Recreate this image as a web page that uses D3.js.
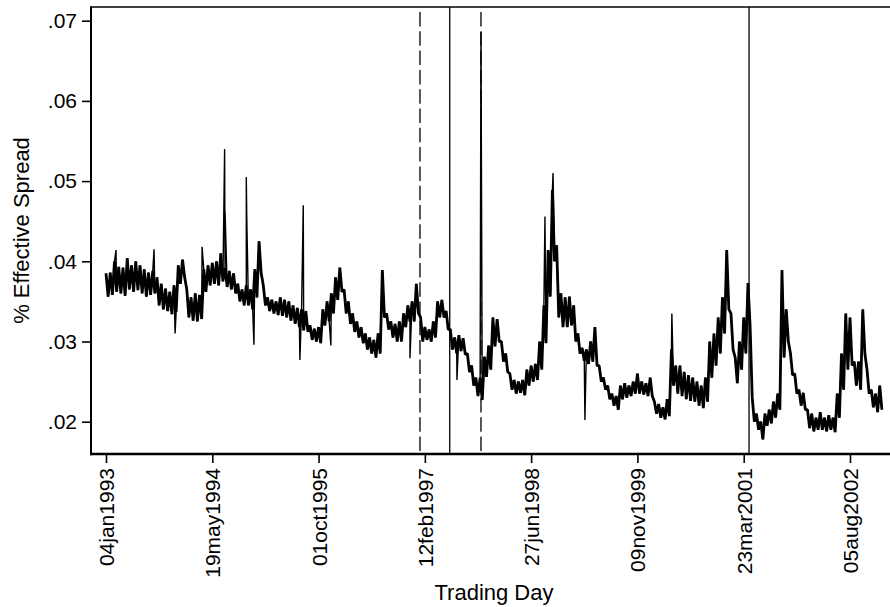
<!DOCTYPE html>
<html>
<head>
<meta charset="utf-8">
<script src="https://cdn.jsdelivr.net/npm/d3@7"></script>
<style>
  body { margin: 0; background: #fff; }
  svg { display: block; font-family: "Liberation Sans", Arial, sans-serif; }
</style>
</head>
<body>
<svg id="chart" width="890" height="607"></svg>
<script>
// spread sampled every 10 calendar days from the first trading day, read as [high, low] pairs (20 days per pair)
const firstDay = "1993-01-04";
const sampleStepDays = 10;
const spreadHiLo = [
  [.0385,.0356],[.0386,.0358],[.0400,.0362],[.0393,.0360],[.0392,.0357],[.0404,.0365],[.0395,.0362],[.0400,.0364],[.0395,.0360],[.0390,.0356],
  [.0386,.0358],[.0388,.0360],[.0380,.0345],[.0372,.0340],[.0366,.0338],[.0362,.0334],[.0370,.0337],[.0395,.0372],[.0402,.0380],[.0365,.0330],
  [.0355,.0326],[.0360,.0325],[.0358,.0328],[.0390,.0362],[.0395,.0370],[.0398,.0372],[.0400,.0370],[.0410,.0375],[.0392,.0368],[.0388,.0365],
  [.0385,.0360],[.0372,.0350],[.0365,.0345],[.0370,.0345],[.0365,.0340],[.0390,.0355],[.0425,.0385],[.0370,.0345],[.0355,.0338],[.0352,.0335],
  [.0350,.0333],[.0355,.0332],[.0352,.0330],[.0350,.0326],[.0345,.0322],[.0342,.0318],[.0340,.0314],[.0338,.0312],[.0320,.0302],[.0316,.0300],
  [.0318,.0298],[.0340,.0320],[.0350,.0325],[.0360,.0335],[.0380,.0352],[.0392,.0362],[.0365,.0335],[.0350,.0322],[.0335,.0312],[.0325,.0305],
  [.0318,.0298],[.0310,.0290],[.0305,.0285],[.0302,.0280],[.0310,.0285],[.0389,.0330],[.0335,.0315],[.0325,.0305],[.0322,.0300],[.0325,.0300],
  [.0335,.0318],[.0345,.0325],[.0350,.0325],[.0372,.0335],[.0330,.0300],[.0318,.0302],[.0315,.0300],[.0325,.0305],[.0350,.0330],[.0352,.0330],
  [.0338,.0315],[.0315,.0290],[.0305,.0285],[.0308,.0288],[.0304,.0284],[.0285,.0262],[.0270,.0245],[.0255,.0232],[.0255,.0227],[.0281,.0256],
  [.0295,.0265],[.0330,.0294],[.0328,.0300],[.0300,.0275],[.0285,.0262],[.0260,.0240],[.0252,.0235],[.0250,.0236],[.0252,.0233],[.0265,.0245],
  [.0270,.0250],[.0272,.0252],[.0300,.0265],[.0345,.0298],[.0414,.0356],[.0489,.0400],[.0420,.0330],[.0360,.0318],[.0355,.0318],[.0356,.0320],
  [.0345,.0300],[.0310,.0285],[.0292,.0276],[.0290,.0272],[.0300,.0275],[.0318,.0270],[.0270,.0250],[.0255,.0240],[.0245,.0228],[.0235,.0220],
  [.0232,.0215],[.0245,.0228],[.0248,.0230],[.0245,.0232],[.0250,.0235],[.0260,.0235],[.0250,.0234],[.0248,.0232],[.0255,.0232],[.0225,.0210],
  [.0222,.0205],[.0218,.0203],[.0228,.0207],[.0290,.0245],[.0270,.0235],[.0270,.0232],[.0262,.0228],[.0258,.0226],[.0255,.0225],[.0250,.0220],
  [.0245,.0217],[.0255,.0225],[.0300,.0255],[.0310,.0270],[.0330,.0285],[.0355,.0310],[.0414,.0340],[.0335,.0290],[.0280,.0248],[.0300,.0265],
  [.0330,.0285],[.0373,.0320],[.0230,.0200],[.0210,.0190],[.0200,.0178],[.0210,.0195],[.0215,.0198],[.0225,.0205],[.0235,.0215],[.0389,.0280],
  [.0340,.0300],[.0285,.0258],[.0260,.0235],[.0240,.0220],[.0236,.0215],[.0215,.0192],[.0210,.0188],[.0205,.0190],[.0212,.0190],[.0205,.0188],
  [.0208,.0190],[.0205,.0187],[.0235,.0205],[.0285,.0240],[.0335,.0265],[.0330,.0270],[.0275,.0245],[.0275,.0240],[.0340,.0285],[.0265,.0235],
  [.0240,.0218],[.0235,.0212],[.0245,.0215]
];

// single-day outliers that stick out of the band
const spikeDays = [
  ["1993-02-20", .0414], ["1993-08-18", .0415], ["1993-11-25", .0310], ["1994-04-01", .0418],
  ["1994-07-16", .0540], ["1994-07-18", .0462], ["1994-10-26", .0505], ["1994-10-28", .0458],
  ["1994-12-01", .0296], ["1995-07-05", .0277], ["1995-07-21", .0470], ["1995-11-28", .0295],
  ["1996-12-04", .0279], ["1997-07-13", .0252], ["1997-11-03", .0686], ["1998-08-31", .0456],
  ["1998-10-08", .0510], ["1999-03-07", .0202], ["2000-04-19", .0335]
];

// event lines
const dashedEvents = ["1997-01-20", "1997-11-03"];
const solidEvents = ["1997-06-09", "2001-04-17"];

const xTickDates = ["1993-01-04", "1994-05-19", "1995-10-01", "1997-02-12",
                    "1998-06-27", "1999-11-09", "2001-03-23", "2002-08-05"];
const yTickValues = [.02, .03, .04, .05, .06, .07];

const yTitle = "% Effective Spread";
const xTitle = "Trading Day";

const parseDay = d3.utcParse("%Y-%m-%d");
const fmtDay = d3.utcFormat("%d%b%Y");

// plot frame (pixels)
const frame = { left: 91, right: 890, top: 7, bottom: 454 };

const svg = d3.select("#chart");
svg.append("rect").attr("width", 890).attr("height", 607).attr("fill", "#fff");

const x = d3.scaleUtc()
  .domain([parseDay(xTickDates[0]), parseDay(xTickDates[xTickDates.length - 1])])
  .range([106, 850]);
const y = d3.scaleLinear().domain([.02, .07]).range([421.7, 20.7]);

// band: alternate high / low samples
const t0 = parseDay(firstDay);
const band = [];
spreadHiLo.forEach((pair, i) => {
  band.push({ date: d3.utcDay.offset(t0, (2 * i) * sampleStepDays), value: pair[0] });
  band.push({ date: d3.utcDay.offset(t0, (2 * i + 1) * sampleStepDays), value: pair[1] });
});
// full series = band + outlier days
const series = band.concat(spikeDays.map(([d, v]) => ({ date: parseDay(d), value: v })))
  .sort((a, b) => a.date - b.date);

// event lines
svg.append("g").selectAll("line.dashed")
  .data(dashedEvents)
  .join("line")
  .attr("x1", d => x(parseDay(d))).attr("x2", d => x(parseDay(d)))
  .attr("y1", 12).attr("y2", frame.bottom)
  .attr("stroke", "#000").attr("stroke-width", 1.3)
  .attr("stroke-dasharray", "14.5,4.8");

svg.append("g").selectAll("line.solid")
  .data(solidEvents)
  .join("line")
  .attr("x1", d => x(parseDay(d))).attr("x2", d => x(parseDay(d)))
  .attr("y1", frame.top).attr("y2", frame.bottom)
  .attr("stroke", "#000").attr("stroke-width", 1.3);

// the spread series: heavy stroke for the dense daily band, thin stroke for the whole line incl. outliers
const line = d3.line()
  .x(d => x(d.date))
  .y(d => y(d.value));

svg.append("path")
  .datum(band)
  .attr("fill", "none")
  .attr("stroke", "#000")
  .attr("stroke-width", 2.8)
  .attr("stroke-linejoin", "bevel")
  .attr("d", line);

svg.append("path")
  .datum(series)
  .attr("fill", "none")
  .attr("stroke", "#000")
  .attr("stroke-width", 1.4)
  .attr("stroke-linejoin", "bevel")
  .attr("d", line);

// frame: top border, left and bottom axis lines
svg.append("line")
  .attr("x1", frame.left).attr("x2", frame.right)
  .attr("y1", frame.top).attr("y2", frame.top)
  .attr("stroke", "#000").attr("stroke-width", 1.6);

// y axis
const yAxis = d3.axisLeft(y)
  .tickValues(yTickValues)
  .tickSize(9)
  .tickPadding(5)
  .tickFormat(d => d3.format(".2f")(d).replace(/^0/, ""));

const yg = svg.append("g")
  .attr("transform", `translate(${frame.left},0)`)
  .call(yAxis);
yg.select(".domain").remove();
yg.selectAll(".tick line").attr("stroke-width", 1.6);
yg.selectAll(".tick text")
  .attr("font-size", 21)
  .attr("font-family", "Liberation Sans, Arial, sans-serif")
  .attr("fill", "#000");

// x axis
const xAxis = d3.axisBottom(x)
  .tickValues(xTickDates.map(parseDay))
  .tickSize(9)
  .tickFormat(d => fmtDay(d).toLowerCase());

const xg = svg.append("g")
  .attr("transform", `translate(0,${frame.bottom})`)
  .call(xAxis);
xg.select(".domain").remove();
xg.selectAll(".tick line").attr("stroke-width", 1.6);
xg.selectAll(".tick text")
  .attr("font-size", 21)
  .attr("font-family", "Liberation Sans, Arial, sans-serif")
  .attr("fill", "#000")
  .attr("text-anchor", "end")
  .attr("transform", "rotate(-90)")
  .attr("x", -14)
  .attr("y", 0)
  .attr("dy", "0.36em");

svg.append("line")
  .attr("x1", frame.left).attr("x2", frame.left)
  .attr("y1", frame.top - 0.8).attr("y2", frame.bottom + 1.3)
  .attr("stroke", "#000").attr("stroke-width", 2);

svg.append("line")
  .attr("x1", frame.left - 1).attr("x2", frame.right)
  .attr("y1", frame.bottom).attr("y2", frame.bottom)
  .attr("stroke", "#000").attr("stroke-width", 2.6);

// axis titles
svg.append("text")
  .attr("transform", `translate(29,${(frame.top + frame.bottom) / 2}) rotate(-90)`)
  .attr("text-anchor", "middle")
  .attr("font-size", 22)
  .attr("fill", "#000")
  .text(yTitle);

svg.append("text")
  .attr("x", 494)
  .attr("y", 600)
  .attr("text-anchor", "middle")
  .attr("font-size", 22)
  .attr("fill", "#000")
  .text(xTitle);
</script>
</body>
</html>
